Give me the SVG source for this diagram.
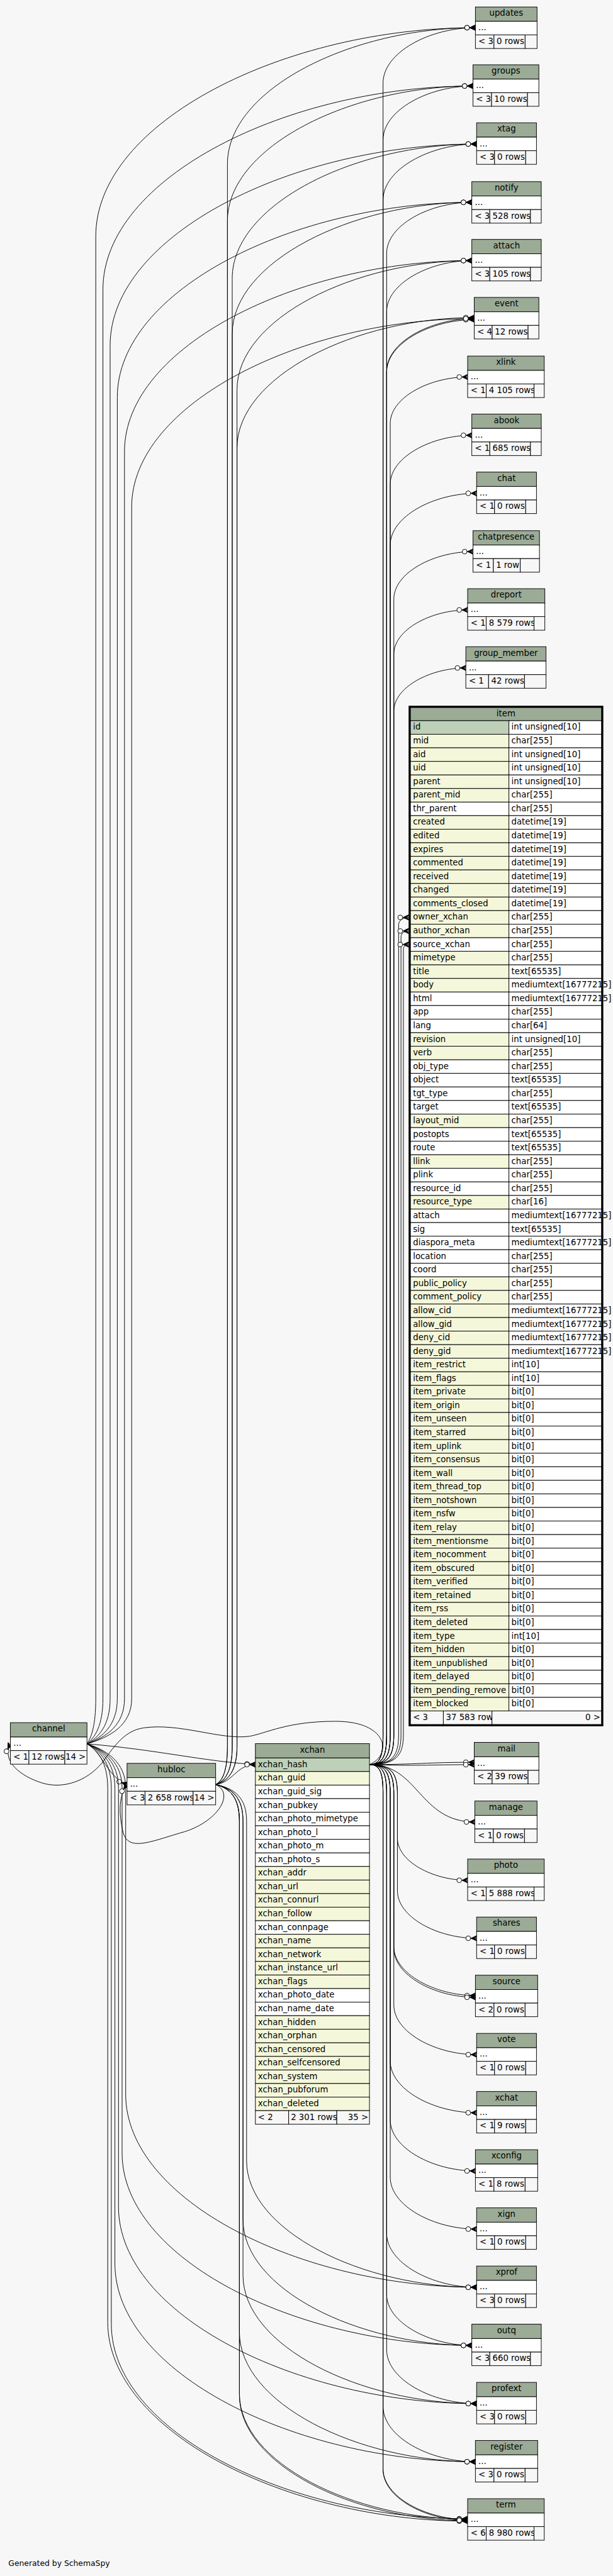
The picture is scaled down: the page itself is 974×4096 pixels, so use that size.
<svg xmlns="http://www.w3.org/2000/svg" width="974" height="4096" viewBox="0 0 974 4096">
<style>
text{font-family:"DejaVu Sans","Liberation Sans",sans-serif;font-size:14px;fill:#000}
.c{text-anchor:middle}
.r{text-anchor:end}
.hd{fill:#9bab96;stroke:#000;stroke-width:1}
.pk{fill:#bed1b8;stroke:#000;stroke-width:1}
.ix{fill:#f4f7da;stroke:#000;stroke-width:1}
.w{fill:#fff;stroke:#000;stroke-width:1}
.ft{fill:#f7f7f7;stroke:#000;stroke-width:1}
.e{fill:none;stroke:#000;stroke-width:1;marker-end:url(#cr)}
</style>
<defs>
<marker id="cr" markerUnits="userSpaceOnUse" orient="auto" refX="0" refY="0" markerWidth="40" markerHeight="20" viewBox="-20 -10 40 20" overflow="visible">
<path d="M-9.5,0 L0,-4.5 L0,-2.5 L-5,0 L0,2.5 L0,4.5 Z M-9.5,0 H0" fill="#000" stroke="#000" stroke-width="0.8"/>
<circle cx="-14" cy="0" r="4" fill="#fff" stroke="#000" stroke-width="1"/>
</marker>
</defs>
<rect x="0" y="0" width="974" height="4096" fill="#f7f7f7"/>
<g transform="scale(0.951)">
<g id="connectors">
<path class="e" d="M145.3,2915.7 C152.6,2905 160,2885 160,2840 L160,395.2 C160,203.3 477.2,46.3 794.3,46.3"/>
<path class="e" d="M145.3,2915.7 C158.7,2905 172,2885 172,2840 L172,483.9 C172,296.8 481.2,143.8 790.3,143.8"/>
<path class="e" d="M145.3,2915.7 C164.7,2905 184,2885 184,2840 L184,577.6 C184,392.4 490.2,240.8 796.3,240.8"/>
<path class="e" d="M145.3,2915.7 C170.7,2905 196,2885 196,2840 L196,664.1 C196,484.9 492.2,338.3 788.3,338.3"/>
<path class="e" d="M145.3,2915.7 C176.7,2905 208,2885 208,2840 L208,754.9 C208,579.3 498.2,435.7 788.3,435.7"/>
<path class="e" d="M145.3,2915.7 C182.7,2905 220,2885 220,2840 L220,847.6 C220,674.5 506.2,532.8 792.3,532.8"/>
<path class="e" d="M145.3,2915.7 C260,2925 340,2945 426.7,2950.3"/>
<path class="e" d="M145.3,2915.7 C170,2928 180,2972 212.3,2983.7"/>
<path class="e" d="M145.3,2915.7 C177.7,2926 210,2946 210,2990 L210,3501.8 C210,3679.2 503.2,3824.3 796.3,3824.3"/>
<path class="e" d="M145.3,2915.7 C174.7,2926 204,2946 204,2990 L204,3600.1 C204,3776.9 496.2,3921.5 788.3,3921.5"/>
<path class="e" d="M145.3,2915.7 C171.7,2926 198,2946 198,2990 L198,3689.7 C198,3870.7 497.2,4018.8 796.3,4018.8"/>
<path class="e" d="M145.3,2915.7 C168.7,2926 192,2946 192,2990 L192,3784.7 C192,3966.9 493.2,4116 794.3,4116"/>
<path class="e" d="M145.3,2915.7 C165.7,2926 186,2946 186,2990 L186,3885.9 C186,4066 483.7,4211.3 781.3,4211.3"/>
<path class="e" d="M145.3,2915.7 C162.7,2926 180,2946 180,2990 L180,3882.6 C180,4064.5 480.7,4215.3 781.3,4215.3"/>
<path class="e" d="M360.3,2983.7 C372.1,2978 380,2960 380,2920 L380,274.2 C380,148.9 587.2,46.3 794.3,46.3"/>
<path class="e" d="M360.3,2983.7 C372.1,2978 380,2960 380,2920 L380,369.5 C380,245.4 585.2,143.8 790.3,143.8"/>
<path class="e" d="M360.3,2983.7 C376.9,2978 388,2960 388,2920 L388,465.4 C388,341.9 592.2,240.8 796.3,240.8"/>
<path class="e" d="M360.3,2983.7 C376.9,2978 388,2960 388,2920 L388,558.5 C388,437.4 588.2,338.3 788.3,338.3"/>
<path class="e" d="M360.3,2983.7 C381.7,2978 396,2960 396,2920 L396,651.5 C396,532.8 592.2,435.7 788.3,435.7"/>
<path class="e" d="M360.3,2983.7 C381.7,2978 396,2960 396,2920 L396,749 C396,629.1 594.2,531 792.3,531"/>
<path class="e" d="M360.3,2983.7 C390,2980 395,2950.3 426.7,2950.3"/>
<path class="e" d="M360.3,2983.7 C395,3000 360,3050 300,3065 C250,3080 215,3095 206,3065 C200,3040 196,3005 212.3,2983.7"/>
<path class="e" d="M360.3,2983.7 C391.3,2990 412,3005 412,3045 L412,3612.9 C412,3729.2 604.2,3824.3 796.3,3824.3"/>
<path class="e" d="M360.3,2983.7 C387.7,2990 406,3005 406,3045 L406,3711.2 C406,3826.9 597.2,3921.5 788.3,3921.5"/>
<path class="e" d="M360.3,2983.7 C387.7,2990 406,3005 406,3045 L406,3804.1 C406,3922.2 601.2,4018.8 796.3,4018.8"/>
<path class="e" d="M360.3,2983.7 C384.1,2990 400,3005 400,3045 L400,3899.1 C400,4018.4 597.2,4116 794.3,4116"/>
<path class="e" d="M360.3,2983.7 C384.1,2990 400,3005 400,3045 L400,4002.3 C400,4117.6 590.7,4212 781.3,4212"/>
<path class="e" d="M360.3,2983.7 C384.1,2990 400,3005 400,3045 L400,4004.8 C400,4120.1 590.7,4214.5 781.3,4214.5"/>
<path class="e" d="M617.3,2950.3 C655,2935 650,2878 560,2878 C480,2878 445,2898 417,2903 C370,2910 300,2880 240,2889 C205,2894 188,2925 170,2948 C145,2978 105,2992 70,2981 C35,2970 2,2945 17.3,2915.7"/>
<path class="e" d="M617.3,2950.3 C635.5,2950.3 640,2935 640,2900 L640,138.9 C640,88 717.2,46.3 794.3,46.3"/>
<path class="e" d="M617.3,2950.3 C635.5,2950.3 640,2935 640,2900 L640,234 C640,184.4 715.2,143.8 790.3,143.8"/>
<path class="e" d="M617.3,2950.3 C635.5,2950.3 640,2935 640,2900 L640,334.6 C640,283 718.2,240.8 796.3,240.8"/>
<path class="e" d="M617.3,2950.3 C640.2,2950.3 646,2935 646,2900 L646,423.7 C646,376.7 717.2,338.3 788.3,338.3"/>
<path class="e" d="M617.3,2950.3 C640.2,2950.3 646,2935 646,2900 L646,521.1 C646,474.1 717.2,435.7 788.3,435.7"/>
<path class="e" d="M617.3,2950.3 C640.2,2950.3 646,2935 646,2900 L646,622.3 C646,574 719.2,534.5 792.3,534.5"/>
<path class="e" d="M617.3,2950.3 C640.2,2950.3 646,2935 646,2900 L646,620.6 C646,572.3 719.2,532.8 792.3,532.8"/>
<path class="e" d="M617.3,2950.3 C645,2950.3 652,2935 652,2900 L652,707.9 C652,665.2 716.7,630.3 781.3,630.3"/>
<path class="e" d="M617.3,2950.3 C645,2950.3 652,2935 652,2900 L652,809.6 C652,764.6 720.2,727.8 788.3,727.8"/>
<path class="e" d="M617.3,2950.3 C645,2950.3 652,2935 652,2900 L652,911.4 C652,863.8 724.2,824.8 796.3,824.8"/>
<path class="e" d="M617.3,2950.3 C649.8,2950.3 658,2935 658,2900 L658,1001.7 C658,958 724.2,922.3 790.3,922.3"/>
<path class="e" d="M617.3,2950.3 C649.8,2950.3 658,2935 658,2900 L658,1093.8 C658,1053.1 719.7,1019.8 781.3,1019.8"/>
<path class="e" d="M617.3,2950.3 C649.8,2950.3 658,2935 658,2900 L658,1189 C658,1149.3 718.3,1116.8 778.3,1116.8"/>
<path class="e" d="M617.3,2950.3 C656,2950.3 666,2935 666,2900 L666,1545.9 C666,1539 674,1533.9 682.7,1533.9"/>
<path class="e" d="M617.3,2950.3 C659.2,2950.3 670,2935 670,2900 L670,1566.6 C670,1560 676,1556.6 682.7,1556.6"/>
<path class="e" d="M617.3,2950.3 C662.4,2950.3 674,2935 674,2900 L674,1587.2 C674,1582 678,1579.2 682.7,1579.2"/>
<path class="e" d="M617.3,2950.3 C700,2950.3 710,2946.5 792.3,2946.5"/>
<path class="e" d="M617.3,2950.3 C700,2953 710,2950.5 792.3,2950.5"/>
<path class="e" d="M617.3,2950.3 C700,2950.3 700,3046.3 793.3,3046.3"/>
<path class="e" d="M617.3,2950.3 C654.6,2950.3 664,2965 664,3000 L664,3073.4 C664,3112.1 722.7,3143.8 781.3,3143.8"/>
<path class="e" d="M617.3,2950.3 C654.6,2950.3 664,2965 664,3000 L664,3161.4 C664,3205.1 730.2,3240.8 796.3,3240.8"/>
<path class="e" d="M617.3,2950.3 C649.8,2950.3 658,2965 658,3000 L658,3254.7 C658,3299.7 726.2,3336.5 794.3,3336.5"/>
<path class="e" d="M617.3,2950.3 C649.8,2950.3 658,2965 658,3000 L658,3257.7 C658,3302.7 726.2,3339.5 794.3,3339.5"/>
<path class="e" d="M617.3,2950.3 C649.8,2950.3 658,2965 658,3000 L658,3352.3 C658,3397.9 727.2,3435.3 796.3,3435.3"/>
<path class="e" d="M617.3,2950.3 C645,2950.3 652,2965 652,3000 L652,3445.9 C652,3493.5 724.2,3532.5 796.3,3532.5"/>
<path class="e" d="M617.3,2950.3 C645,2950.3 652,2965 652,3000 L652,3544.4 C652,3591.4 723.2,3629.8 794.3,3629.8"/>
<path class="e" d="M617.3,2950.3 C645,2950.3 652,2965 652,3000 L652,3640.4 C652,3688 724.2,3727 796.3,3727"/>
<path class="e" d="M617.3,2950.3 C640.2,2950.3 646,2965 646,3000 L646,3734.1 C646,3783.7 721.2,3824.3 796.3,3824.3"/>
<path class="e" d="M617.3,2950.3 C640.2,2950.3 646,2965 646,3000 L646,3836.1 C646,3883.1 717.2,3921.5 788.3,3921.5"/>
<path class="e" d="M617.3,2950.3 C640.2,2950.3 646,2965 646,3000 L646,3928.6 C646,3978.2 721.2,4018.8 796.3,4018.8"/>
<path class="e" d="M617.3,2950.3 C635.5,2950.3 640,2965 640,3000 L640,4023.4 C640,4074.3 717.2,4116 794.3,4116"/>
<path class="e" d="M617.3,2950.3 C635.5,2950.3 640,2965 640,3000 L640,4127.7 C640,4174.3 710.7,4212.5 781.3,4212.5"/>
<path class="e" d="M617.3,2950.3 C635.5,2950.3 640,2965 640,3000 L640,4129.2 C640,4175.8 710.7,4214 781.3,4214"/>
</g>

<g id="updates"><rect class="hd" x="794.3" y="11.7" width="103" height="24"/><text class="c" x="845.8" y="26.7">updates</text><rect class="w" x="794.3" y="35.7" width="103" height="22.7"/><text x="799.3" y="50.9">...</text><rect class="ft" x="794.3" y="58.4" width="31" height="22.7"/><text x="799.3" y="73.6">&lt; 3</text><rect class="ft" x="825.3" y="58.4" width="52" height="22.7"/><text x="829.8" y="73.6">0 rows</text><rect class="ft" x="877.3" y="58.4" width="20" height="22.7"/></g>
<g id="groups"><rect class="hd" x="790.3" y="108.3" width="110" height="24"/><text class="c" x="845.3" y="123.3">groups</text><rect class="w" x="790.3" y="132.3" width="110" height="22.7"/><text x="795.3" y="147.5">...</text><rect class="ft" x="790.3" y="155" width="31" height="22.7"/><text x="795.3" y="170.2">&lt; 3</text><rect class="ft" x="821.3" y="155" width="60" height="22.7"/><text x="825.8" y="170.2">10 rows</text><rect class="ft" x="881.3" y="155" width="19" height="22.7"/></g>
<g id="xtag"><rect class="hd" x="796.3" y="205.3" width="100" height="24"/><text class="c" x="846.3" y="220.3">xtag</text><rect class="w" x="796.3" y="229.3" width="100" height="22.7"/><text x="801.3" y="244.5">...</text><rect class="ft" x="796.3" y="252" width="30" height="22.7"/><text x="801.3" y="267.2">&lt; 3</text><rect class="ft" x="826.3" y="252" width="52" height="22.7"/><text x="830.8" y="267.2">0 rows</text><rect class="ft" x="878.3" y="252" width="18" height="22.7"/></g>
<g id="notify"><rect class="hd" x="788.3" y="303.7" width="116" height="24"/><text class="c" x="846.3" y="318.7">notify</text><rect class="w" x="788.3" y="327.7" width="116" height="22.7"/><text x="793.3" y="342.9">...</text><rect class="ft" x="788.3" y="350.4" width="30" height="22.7"/><text x="793.3" y="365.6">&lt; 3</text><rect class="ft" x="818.3" y="350.4" width="68" height="22.7"/><text x="822.8" y="365.6">528 rows</text><rect class="ft" x="886.3" y="350.4" width="18" height="22.7"/></g>
<g id="attach"><rect class="hd" x="788.3" y="400.3" width="116" height="24"/><text class="c" x="846.3" y="415.3">attach</text><rect class="w" x="788.3" y="424.3" width="116" height="22.7"/><text x="793.3" y="439.5">...</text><rect class="ft" x="788.3" y="447" width="30" height="22.7"/><text x="793.3" y="462.2">&lt; 3</text><rect class="ft" x="818.3" y="447" width="68" height="22.7"/><text x="822.8" y="462.2">105 rows</text><rect class="ft" x="886.3" y="447" width="18" height="22.7"/></g>
<g id="event"><rect class="hd" x="792.3" y="497.3" width="108" height="24"/><text class="c" x="846.3" y="512.3">event</text><rect class="w" x="792.3" y="521.3" width="108" height="22.7"/><text x="797.3" y="536.5">...</text><rect class="ft" x="792.3" y="544" width="30" height="22.7"/><text x="797.3" y="559.2">&lt; 4</text><rect class="ft" x="822.3" y="544" width="60" height="22.7"/><text x="826.8" y="559.2">12 rows</text><rect class="ft" x="882.3" y="544" width="18" height="22.7"/></g>
<g id="xlink"><rect class="hd" x="781.3" y="595.3" width="128" height="24"/><text class="c" x="845.3" y="610.3">xlink</text><rect class="w" x="781.3" y="619.3" width="128" height="22.7"/><text x="786.3" y="634.5">...</text><rect class="ft" x="781.3" y="642" width="31" height="22.7"/><text x="786.3" y="657.2">&lt; 1</text><rect class="ft" x="812.3" y="642" width="80" height="22.7"/><text x="816.8" y="657.2">4 105 rows</text><rect class="ft" x="892.3" y="642" width="17" height="22.7"/></g>
<g id="abook"><rect class="hd" x="788.3" y="692.3" width="116" height="24"/><text class="c" x="846.3" y="707.3">abook</text><rect class="w" x="788.3" y="716.3" width="116" height="22.7"/><text x="793.3" y="731.5">...</text><rect class="ft" x="788.3" y="739" width="30" height="22.7"/><text x="793.3" y="754.2">&lt; 1</text><rect class="ft" x="818.3" y="739" width="68" height="22.7"/><text x="822.8" y="754.2">685 rows</text><rect class="ft" x="886.3" y="739" width="18" height="22.7"/></g>
<g id="chat"><rect class="hd" x="796.3" y="789.3" width="100" height="24"/><text class="c" x="846.3" y="804.3">chat</text><rect class="w" x="796.3" y="813.3" width="100" height="22.7"/><text x="801.3" y="828.5">...</text><rect class="ft" x="796.3" y="836" width="30" height="22.7"/><text x="801.3" y="851.2">&lt; 1</text><rect class="ft" x="826.3" y="836" width="52" height="22.7"/><text x="830.8" y="851.2">0 rows</text><rect class="ft" x="878.3" y="836" width="18" height="22.7"/></g>
<g id="chatpresence"><rect class="hd" x="790.3" y="887.3" width="111" height="24"/><text class="c" x="845.8" y="902.3">chatpresence</text><rect class="w" x="790.3" y="911.3" width="111" height="22.7"/><text x="795.3" y="926.5">...</text><rect class="ft" x="790.3" y="934" width="34" height="22.7"/><text x="795.3" y="949.2">&lt; 1</text><rect class="ft" x="824.3" y="934" width="45" height="22.7"/><text x="828.8" y="949.2">1 row</text><rect class="ft" x="869.3" y="934" width="32" height="22.7"/></g>
<g id="dreport"><rect class="hd" x="781.3" y="984.3" width="129" height="24"/><text class="c" x="845.8" y="999.3">dreport</text><rect class="w" x="781.3" y="1008.3" width="129" height="22.7"/><text x="786.3" y="1023.5">...</text><rect class="ft" x="781.3" y="1031" width="31" height="22.7"/><text x="786.3" y="1046.2">&lt; 1</text><rect class="ft" x="812.3" y="1031" width="80" height="22.7"/><text x="816.8" y="1046.2">8 579 rows</text><rect class="ft" x="892.3" y="1031" width="18" height="22.7"/></g>
<g id="group_member"><rect class="hd" x="778.3" y="1081.3" width="134" height="24"/><text class="c" x="845.3" y="1096.3">group_member</text><rect class="w" x="778.3" y="1105.3" width="134" height="22.7"/><text x="783.3" y="1120.5">...</text><rect class="ft" x="778.3" y="1128" width="38" height="22.7"/><text x="783.3" y="1143.2">&lt; 1</text><rect class="ft" x="816.3" y="1128" width="60" height="22.7"/><text x="820.8" y="1143.2">42 rows</text><rect class="ft" x="876.3" y="1128" width="36" height="22.7"/></g>

<g id="item">
<rect class="hd" x="685.7" y="1183" width="319.3" height="22"/><text class="c" x="845.3" y="1198">item</text>
<rect class="pk" x="685.7" y="1205" width="164.6" height="22.68"/><rect class="w" x="850.3" y="1205" width="154.7" height="22.68"/><text x="690" y="1220.3">id</text><text x="854.4" y="1220.3">int unsigned[10]</text>
<rect class="ix" x="685.7" y="1227.68" width="164.6" height="22.68"/><rect class="w" x="850.3" y="1227.68" width="154.7" height="22.68"/><text x="690" y="1242.98">mid</text><text x="854.4" y="1242.98">char[255]</text>
<rect class="ix" x="685.7" y="1250.36" width="164.6" height="22.68"/><rect class="w" x="850.3" y="1250.36" width="154.7" height="22.68"/><text x="690" y="1265.66">aid</text><text x="854.4" y="1265.66">int unsigned[10]</text>
<rect class="ix" x="685.7" y="1273.04" width="164.6" height="22.68"/><rect class="w" x="850.3" y="1273.04" width="154.7" height="22.68"/><text x="690" y="1288.34">uid</text><text x="854.4" y="1288.34">int unsigned[10]</text>
<rect class="ix" x="685.7" y="1295.72" width="164.6" height="22.68"/><rect class="w" x="850.3" y="1295.72" width="154.7" height="22.68"/><text x="690" y="1311.02">parent</text><text x="854.4" y="1311.02">int unsigned[10]</text>
<rect class="ix" x="685.7" y="1318.4" width="164.6" height="22.68"/><rect class="w" x="850.3" y="1318.4" width="154.7" height="22.68"/><text x="690" y="1333.7">parent_mid</text><text x="854.4" y="1333.7">char[255]</text>
<rect class="w" x="685.7" y="1341.08" width="164.6" height="22.68"/><rect class="w" x="850.3" y="1341.08" width="154.7" height="22.68"/><text x="690" y="1356.38">thr_parent</text><text x="854.4" y="1356.38">char[255]</text>
<rect class="ix" x="685.7" y="1363.76" width="164.6" height="22.68"/><rect class="w" x="850.3" y="1363.76" width="154.7" height="22.68"/><text x="690" y="1379.06">created</text><text x="854.4" y="1379.06">datetime[19]</text>
<rect class="ix" x="685.7" y="1386.44" width="164.6" height="22.68"/><rect class="w" x="850.3" y="1386.44" width="154.7" height="22.68"/><text x="690" y="1401.74">edited</text><text x="854.4" y="1401.74">datetime[19]</text>
<rect class="ix" x="685.7" y="1409.12" width="164.6" height="22.68"/><rect class="w" x="850.3" y="1409.12" width="154.7" height="22.68"/><text x="690" y="1424.42">expires</text><text x="854.4" y="1424.42">datetime[19]</text>
<rect class="ix" x="685.7" y="1431.8" width="164.6" height="22.68"/><rect class="w" x="850.3" y="1431.8" width="154.7" height="22.68"/><text x="690" y="1447.1">commented</text><text x="854.4" y="1447.1">datetime[19]</text>
<rect class="ix" x="685.7" y="1454.48" width="164.6" height="22.68"/><rect class="w" x="850.3" y="1454.48" width="154.7" height="22.68"/><text x="690" y="1469.78">received</text><text x="854.4" y="1469.78">datetime[19]</text>
<rect class="ix" x="685.7" y="1477.16" width="164.6" height="22.68"/><rect class="w" x="850.3" y="1477.16" width="154.7" height="22.68"/><text x="690" y="1492.46">changed</text><text x="854.4" y="1492.46">datetime[19]</text>
<rect class="ix" x="685.7" y="1499.84" width="164.6" height="22.68"/><rect class="w" x="850.3" y="1499.84" width="154.7" height="22.68"/><text x="690" y="1515.14">comments_closed</text><text x="854.4" y="1515.14">datetime[19]</text>
<rect class="ix" x="685.7" y="1522.52" width="164.6" height="22.68"/><rect class="w" x="850.3" y="1522.52" width="154.7" height="22.68"/><text x="690" y="1537.82">owner_xchan</text><text x="854.4" y="1537.82">char[255]</text>
<rect class="ix" x="685.7" y="1545.2" width="164.6" height="22.68"/><rect class="w" x="850.3" y="1545.2" width="154.7" height="22.68"/><text x="690" y="1560.5">author_xchan</text><text x="854.4" y="1560.5">char[255]</text>
<rect class="w" x="685.7" y="1567.88" width="164.6" height="22.68"/><rect class="w" x="850.3" y="1567.88" width="154.7" height="22.68"/><text x="690" y="1583.18">source_xchan</text><text x="854.4" y="1583.18">char[255]</text>
<rect class="ix" x="685.7" y="1590.56" width="164.6" height="22.68"/><rect class="w" x="850.3" y="1590.56" width="154.7" height="22.68"/><text x="690" y="1605.86">mimetype</text><text x="854.4" y="1605.86">char[255]</text>
<rect class="ix" x="685.7" y="1613.24" width="164.6" height="22.68"/><rect class="w" x="850.3" y="1613.24" width="154.7" height="22.68"/><text x="690" y="1628.54">title</text><text x="854.4" y="1628.54">text[65535]</text>
<rect class="ix" x="685.7" y="1635.92" width="164.6" height="22.68"/><rect class="w" x="850.3" y="1635.92" width="154.7" height="22.68"/><text x="690" y="1651.22">body</text><text x="854.4" y="1651.22">mediumtext[16777215]</text>
<rect class="w" x="685.7" y="1658.6" width="164.6" height="22.68"/><rect class="w" x="850.3" y="1658.6" width="154.7" height="22.68"/><text x="690" y="1673.9">html</text><text x="854.4" y="1673.9">mediumtext[16777215]</text>
<rect class="w" x="685.7" y="1681.28" width="164.6" height="22.68"/><rect class="w" x="850.3" y="1681.28" width="154.7" height="22.68"/><text x="690" y="1696.58">app</text><text x="854.4" y="1696.58">char[255]</text>
<rect class="w" x="685.7" y="1703.96" width="164.6" height="22.68"/><rect class="w" x="850.3" y="1703.96" width="154.7" height="22.68"/><text x="690" y="1719.26">lang</text><text x="854.4" y="1719.26">char[64]</text>
<rect class="ix" x="685.7" y="1726.64" width="164.6" height="22.68"/><rect class="w" x="850.3" y="1726.64" width="154.7" height="22.68"/><text x="690" y="1741.94">revision</text><text x="854.4" y="1741.94">int unsigned[10]</text>
<rect class="ix" x="685.7" y="1749.32" width="164.6" height="22.68"/><rect class="w" x="850.3" y="1749.32" width="154.7" height="22.68"/><text x="690" y="1764.62">verb</text><text x="854.4" y="1764.62">char[255]</text>
<rect class="w" x="685.7" y="1772" width="164.6" height="22.68"/><rect class="w" x="850.3" y="1772" width="154.7" height="22.68"/><text x="690" y="1787.3">obj_type</text><text x="854.4" y="1787.3">char[255]</text>
<rect class="w" x="685.7" y="1794.68" width="164.6" height="22.68"/><rect class="w" x="850.3" y="1794.68" width="154.7" height="22.68"/><text x="690" y="1809.98">object</text><text x="854.4" y="1809.98">text[65535]</text>
<rect class="w" x="685.7" y="1817.36" width="164.6" height="22.68"/><rect class="w" x="850.3" y="1817.36" width="154.7" height="22.68"/><text x="690" y="1832.66">tgt_type</text><text x="854.4" y="1832.66">char[255]</text>
<rect class="w" x="685.7" y="1840.04" width="164.6" height="22.68"/><rect class="w" x="850.3" y="1840.04" width="154.7" height="22.68"/><text x="690" y="1855.34">target</text><text x="854.4" y="1855.34">text[65535]</text>
<rect class="ix" x="685.7" y="1862.72" width="164.6" height="22.68"/><rect class="w" x="850.3" y="1862.72" width="154.7" height="22.68"/><text x="690" y="1878.02">layout_mid</text><text x="854.4" y="1878.02">char[255]</text>
<rect class="w" x="685.7" y="1885.4" width="164.6" height="22.68"/><rect class="w" x="850.3" y="1885.4" width="154.7" height="22.68"/><text x="690" y="1900.7">postopts</text><text x="854.4" y="1900.7">text[65535]</text>
<rect class="w" x="685.7" y="1908.08" width="164.6" height="22.68"/><rect class="w" x="850.3" y="1908.08" width="154.7" height="22.68"/><text x="690" y="1923.38">route</text><text x="854.4" y="1923.38">text[65535]</text>
<rect class="ix" x="685.7" y="1930.76" width="164.6" height="22.68"/><rect class="w" x="850.3" y="1930.76" width="154.7" height="22.68"/><text x="690" y="1946.06">llink</text><text x="854.4" y="1946.06">char[255]</text>
<rect class="w" x="685.7" y="1953.44" width="164.6" height="22.68"/><rect class="w" x="850.3" y="1953.44" width="154.7" height="22.68"/><text x="690" y="1968.74">plink</text><text x="854.4" y="1968.74">char[255]</text>
<rect class="w" x="685.7" y="1976.12" width="164.6" height="22.68"/><rect class="w" x="850.3" y="1976.12" width="154.7" height="22.68"/><text x="690" y="1991.42">resource_id</text><text x="854.4" y="1991.42">char[255]</text>
<rect class="ix" x="685.7" y="1998.8" width="164.6" height="22.68"/><rect class="w" x="850.3" y="1998.8" width="154.7" height="22.68"/><text x="690" y="2014.1">resource_type</text><text x="854.4" y="2014.1">char[16]</text>
<rect class="w" x="685.7" y="2021.48" width="164.6" height="22.68"/><rect class="w" x="850.3" y="2021.48" width="154.7" height="22.68"/><text x="690" y="2036.78">attach</text><text x="854.4" y="2036.78">mediumtext[16777215]</text>
<rect class="w" x="685.7" y="2044.16" width="164.6" height="22.68"/><rect class="w" x="850.3" y="2044.16" width="154.7" height="22.68"/><text x="690" y="2059.46">sig</text><text x="854.4" y="2059.46">text[65535]</text>
<rect class="w" x="685.7" y="2066.84" width="164.6" height="22.68"/><rect class="w" x="850.3" y="2066.84" width="154.7" height="22.68"/><text x="690" y="2082.14">diaspora_meta</text><text x="854.4" y="2082.14">mediumtext[16777215]</text>
<rect class="w" x="685.7" y="2089.52" width="164.6" height="22.68"/><rect class="w" x="850.3" y="2089.52" width="154.7" height="22.68"/><text x="690" y="2104.82">location</text><text x="854.4" y="2104.82">char[255]</text>
<rect class="w" x="685.7" y="2112.2" width="164.6" height="22.68"/><rect class="w" x="850.3" y="2112.2" width="154.7" height="22.68"/><text x="690" y="2127.5">coord</text><text x="854.4" y="2127.5">char[255]</text>
<rect class="ix" x="685.7" y="2134.88" width="164.6" height="22.68"/><rect class="w" x="850.3" y="2134.88" width="154.7" height="22.68"/><text x="690" y="2150.18">public_policy</text><text x="854.4" y="2150.18">char[255]</text>
<rect class="ix" x="685.7" y="2157.56" width="164.6" height="22.68"/><rect class="w" x="850.3" y="2157.56" width="154.7" height="22.68"/><text x="690" y="2172.86">comment_policy</text><text x="854.4" y="2172.86">char[255]</text>
<rect class="ix" x="685.7" y="2180.24" width="164.6" height="22.68"/><rect class="w" x="850.3" y="2180.24" width="154.7" height="22.68"/><text x="690" y="2195.54">allow_cid</text><text x="854.4" y="2195.54">mediumtext[16777215]</text>
<rect class="ix" x="685.7" y="2202.92" width="164.6" height="22.68"/><rect class="w" x="850.3" y="2202.92" width="154.7" height="22.68"/><text x="690" y="2218.22">allow_gid</text><text x="854.4" y="2218.22">mediumtext[16777215]</text>
<rect class="ix" x="685.7" y="2225.6" width="164.6" height="22.68"/><rect class="w" x="850.3" y="2225.6" width="154.7" height="22.68"/><text x="690" y="2240.9">deny_cid</text><text x="854.4" y="2240.9">mediumtext[16777215]</text>
<rect class="ix" x="685.7" y="2248.28" width="164.6" height="22.68"/><rect class="w" x="850.3" y="2248.28" width="154.7" height="22.68"/><text x="690" y="2263.58">deny_gid</text><text x="854.4" y="2263.58">mediumtext[16777215]</text>
<rect class="ix" x="685.7" y="2270.96" width="164.6" height="22.68"/><rect class="w" x="850.3" y="2270.96" width="154.7" height="22.68"/><text x="690" y="2286.26">item_restrict</text><text x="854.4" y="2286.26">int[10]</text>
<rect class="ix" x="685.7" y="2293.64" width="164.6" height="22.68"/><rect class="w" x="850.3" y="2293.64" width="154.7" height="22.68"/><text x="690" y="2308.94">item_flags</text><text x="854.4" y="2308.94">int[10]</text>
<rect class="ix" x="685.7" y="2316.32" width="164.6" height="22.68"/><rect class="w" x="850.3" y="2316.32" width="154.7" height="22.68"/><text x="690" y="2331.62">item_private</text><text x="854.4" y="2331.62">bit[0]</text>
<rect class="ix" x="685.7" y="2339" width="164.6" height="22.68"/><rect class="w" x="850.3" y="2339" width="154.7" height="22.68"/><text x="690" y="2354.3">item_origin</text><text x="854.4" y="2354.3">bit[0]</text>
<rect class="ix" x="685.7" y="2361.68" width="164.6" height="22.68"/><rect class="w" x="850.3" y="2361.68" width="154.7" height="22.68"/><text x="690" y="2376.98">item_unseen</text><text x="854.4" y="2376.98">bit[0]</text>
<rect class="ix" x="685.7" y="2384.36" width="164.6" height="22.68"/><rect class="w" x="850.3" y="2384.36" width="154.7" height="22.68"/><text x="690" y="2399.66">item_starred</text><text x="854.4" y="2399.66">bit[0]</text>
<rect class="ix" x="685.7" y="2407.04" width="164.6" height="22.68"/><rect class="w" x="850.3" y="2407.04" width="154.7" height="22.68"/><text x="690" y="2422.34">item_uplink</text><text x="854.4" y="2422.34">bit[0]</text>
<rect class="ix" x="685.7" y="2429.72" width="164.6" height="22.68"/><rect class="w" x="850.3" y="2429.72" width="154.7" height="22.68"/><text x="690" y="2445.02">item_consensus</text><text x="854.4" y="2445.02">bit[0]</text>
<rect class="ix" x="685.7" y="2452.4" width="164.6" height="22.68"/><rect class="w" x="850.3" y="2452.4" width="154.7" height="22.68"/><text x="690" y="2467.7">item_wall</text><text x="854.4" y="2467.7">bit[0]</text>
<rect class="ix" x="685.7" y="2475.08" width="164.6" height="22.68"/><rect class="w" x="850.3" y="2475.08" width="154.7" height="22.68"/><text x="690" y="2490.38">item_thread_top</text><text x="854.4" y="2490.38">bit[0]</text>
<rect class="ix" x="685.7" y="2497.76" width="164.6" height="22.68"/><rect class="w" x="850.3" y="2497.76" width="154.7" height="22.68"/><text x="690" y="2513.06">item_notshown</text><text x="854.4" y="2513.06">bit[0]</text>
<rect class="ix" x="685.7" y="2520.44" width="164.6" height="22.68"/><rect class="w" x="850.3" y="2520.44" width="154.7" height="22.68"/><text x="690" y="2535.74">item_nsfw</text><text x="854.4" y="2535.74">bit[0]</text>
<rect class="ix" x="685.7" y="2543.12" width="164.6" height="22.68"/><rect class="w" x="850.3" y="2543.12" width="154.7" height="22.68"/><text x="690" y="2558.42">item_relay</text><text x="854.4" y="2558.42">bit[0]</text>
<rect class="ix" x="685.7" y="2565.8" width="164.6" height="22.68"/><rect class="w" x="850.3" y="2565.8" width="154.7" height="22.68"/><text x="690" y="2581.1">item_mentionsme</text><text x="854.4" y="2581.1">bit[0]</text>
<rect class="ix" x="685.7" y="2588.48" width="164.6" height="22.68"/><rect class="w" x="850.3" y="2588.48" width="154.7" height="22.68"/><text x="690" y="2603.78">item_nocomment</text><text x="854.4" y="2603.78">bit[0]</text>
<rect class="ix" x="685.7" y="2611.16" width="164.6" height="22.68"/><rect class="w" x="850.3" y="2611.16" width="154.7" height="22.68"/><text x="690" y="2626.46">item_obscured</text><text x="854.4" y="2626.46">bit[0]</text>
<rect class="ix" x="685.7" y="2633.84" width="164.6" height="22.68"/><rect class="w" x="850.3" y="2633.84" width="154.7" height="22.68"/><text x="690" y="2649.14">item_verified</text><text x="854.4" y="2649.14">bit[0]</text>
<rect class="ix" x="685.7" y="2656.52" width="164.6" height="22.68"/><rect class="w" x="850.3" y="2656.52" width="154.7" height="22.68"/><text x="690" y="2671.82">item_retained</text><text x="854.4" y="2671.82">bit[0]</text>
<rect class="ix" x="685.7" y="2679.2" width="164.6" height="22.68"/><rect class="w" x="850.3" y="2679.2" width="154.7" height="22.68"/><text x="690" y="2694.5">item_rss</text><text x="854.4" y="2694.5">bit[0]</text>
<rect class="ix" x="685.7" y="2701.88" width="164.6" height="22.68"/><rect class="w" x="850.3" y="2701.88" width="154.7" height="22.68"/><text x="690" y="2717.18">item_deleted</text><text x="854.4" y="2717.18">bit[0]</text>
<rect class="ix" x="685.7" y="2724.56" width="164.6" height="22.68"/><rect class="w" x="850.3" y="2724.56" width="154.7" height="22.68"/><text x="690" y="2739.86">item_type</text><text x="854.4" y="2739.86">int[10]</text>
<rect class="ix" x="685.7" y="2747.24" width="164.6" height="22.68"/><rect class="w" x="850.3" y="2747.24" width="154.7" height="22.68"/><text x="690" y="2762.54">item_hidden</text><text x="854.4" y="2762.54">bit[0]</text>
<rect class="ix" x="685.7" y="2769.92" width="164.6" height="22.68"/><rect class="w" x="850.3" y="2769.92" width="154.7" height="22.68"/><text x="690" y="2785.22">item_unpublished</text><text x="854.4" y="2785.22">bit[0]</text>
<rect class="ix" x="685.7" y="2792.6" width="164.6" height="22.68"/><rect class="w" x="850.3" y="2792.6" width="154.7" height="22.68"/><text x="690" y="2807.9">item_delayed</text><text x="854.4" y="2807.9">bit[0]</text>
<rect class="ix" x="685.7" y="2815.28" width="164.6" height="22.68"/><rect class="w" x="850.3" y="2815.28" width="154.7" height="22.68"/><text x="690" y="2830.58">item_pending_remove</text><text x="854.4" y="2830.58">bit[0]</text>
<rect class="ix" x="685.7" y="2837.96" width="164.6" height="22.68"/><rect class="w" x="850.3" y="2837.96" width="154.7" height="22.68"/><text x="690" y="2853.26">item_blocked</text><text x="854.4" y="2853.26">bit[0]</text>
<rect class="ft" x="685.7" y="2860.64" width="55" height="22.68"/><text x="690" y="2875.94">&lt; 3</text>
<rect class="ft" x="740.7" y="2860.64" width="81.3" height="22.68"/><text x="745" y="2875.94">37 583 rows</text>
<rect class="ft" x="822" y="2860.64" width="183" height="22.68"/><text class="r" x="1003" y="2875.94">0 &gt;</text>
<rect x="684.2" y="1181.5" width="322.3" height="1703.3" fill="none" stroke="#000" stroke-width="3"/>
</g>

<g id="channel"><rect class="hd" x="17.3" y="2880.3" width="128" height="24"/><text class="c" x="81.3" y="2895.3">channel</text><rect class="w" x="17.3" y="2904.3" width="128" height="22.7"/><text x="22.3" y="2919.5">...</text><rect class="ft" x="17.3" y="2927" width="31" height="22.7"/><text x="22.3" y="2942.2">&lt; 1</text><rect class="ft" x="48.3" y="2927" width="60" height="22.7"/><text x="52.8" y="2942.2">12 rows</text><rect class="ft" x="108.3" y="2927" width="37" height="22.7"/><text class="r" x="143.3" y="2942.2">14 &gt;</text></g>
<g id="hubloc"><rect class="hd" x="212.3" y="2948.3" width="148" height="24"/><text class="c" x="286.3" y="2963.3">hubloc</text><rect class="w" x="212.3" y="2972.3" width="148" height="22.7"/><text x="217.3" y="2987.5">...</text><rect class="ft" x="212.3" y="2995" width="30" height="22.7"/><text x="217.3" y="3010.2">&lt; 3</text><rect class="ft" x="242.3" y="2995" width="80.4" height="22.7"/><text x="246.8" y="3010.2">2 658 rows</text><rect class="ft" x="322.7" y="2995" width="37.6" height="22.7"/><text class="r" x="358.3" y="3010.2">14 &gt;</text></g>

<g id="xchan">
<rect class="hd" x="426.7" y="2915.3" width="190.6" height="24"/><text class="c" x="522" y="2930.3">xchan</text>
<rect class="pk" x="426.7" y="2939.3" width="190.6" height="22.68"/><text x="431" y="2954.6">xchan_hash</text>
<rect class="ix" x="426.7" y="2961.98" width="190.6" height="22.68"/><text x="431" y="2977.28">xchan_guid</text>
<rect class="w" x="426.7" y="2984.66" width="190.6" height="22.68"/><text x="431" y="2999.96">xchan_guid_sig</text>
<rect class="w" x="426.7" y="3007.34" width="190.6" height="22.68"/><text x="431" y="3022.64">xchan_pubkey</text>
<rect class="w" x="426.7" y="3030.02" width="190.6" height="22.68"/><text x="431" y="3045.32">xchan_photo_mimetype</text>
<rect class="w" x="426.7" y="3052.7" width="190.6" height="22.68"/><text x="431" y="3068">xchan_photo_l</text>
<rect class="w" x="426.7" y="3075.38" width="190.6" height="22.68"/><text x="431" y="3090.68">xchan_photo_m</text>
<rect class="w" x="426.7" y="3098.06" width="190.6" height="22.68"/><text x="431" y="3113.36">xchan_photo_s</text>
<rect class="ix" x="426.7" y="3120.74" width="190.6" height="22.68"/><text x="431" y="3136.04">xchan_addr</text>
<rect class="ix" x="426.7" y="3143.42" width="190.6" height="22.68"/><text x="431" y="3158.72">xchan_url</text>
<rect class="ix" x="426.7" y="3166.1" width="190.6" height="22.68"/><text x="431" y="3181.4">xchan_connurl</text>
<rect class="ix" x="426.7" y="3188.78" width="190.6" height="22.68"/><text x="431" y="3204.08">xchan_follow</text>
<rect class="w" x="426.7" y="3211.46" width="190.6" height="22.68"/><text x="431" y="3226.76">xchan_connpage</text>
<rect class="ix" x="426.7" y="3234.14" width="190.6" height="22.68"/><text x="431" y="3249.44">xchan_name</text>
<rect class="ix" x="426.7" y="3256.82" width="190.6" height="22.68"/><text x="431" y="3272.12">xchan_network</text>
<rect class="ix" x="426.7" y="3279.5" width="190.6" height="22.68"/><text x="431" y="3294.8">xchan_instance_url</text>
<rect class="ix" x="426.7" y="3302.18" width="190.6" height="22.68"/><text x="431" y="3317.48">xchan_flags</text>
<rect class="w" x="426.7" y="3324.86" width="190.6" height="22.68"/><text x="431" y="3340.16">xchan_photo_date</text>
<rect class="w" x="426.7" y="3347.54" width="190.6" height="22.68"/><text x="431" y="3362.84">xchan_name_date</text>
<rect class="ix" x="426.7" y="3370.22" width="190.6" height="22.68"/><text x="431" y="3385.52">xchan_hidden</text>
<rect class="ix" x="426.7" y="3392.9" width="190.6" height="22.68"/><text x="431" y="3408.2">xchan_orphan</text>
<rect class="ix" x="426.7" y="3415.58" width="190.6" height="22.68"/><text x="431" y="3430.88">xchan_censored</text>
<rect class="ix" x="426.7" y="3438.26" width="190.6" height="22.68"/><text x="431" y="3453.56">xchan_selfcensored</text>
<rect class="ix" x="426.7" y="3460.94" width="190.6" height="22.68"/><text x="431" y="3476.24">xchan_system</text>
<rect class="ix" x="426.7" y="3483.62" width="190.6" height="22.68"/><text x="431" y="3498.92">xchan_pubforum</text>
<rect class="ix" x="426.7" y="3506.3" width="190.6" height="22.68"/><text x="431" y="3521.6">xchan_deleted</text>
<rect class="ft" x="426.7" y="3528.98" width="55.6" height="22.7"/><text x="431" y="3544.2">&lt; 2</text>
<rect class="ft" x="482.3" y="3528.98" width="80.4" height="22.7"/><text x="486" y="3544.2">2 301 rows</text>
<rect class="ft" x="562.7" y="3528.98" width="54.6" height="22.7"/><text class="r" x="615.3" y="3544.2">35 &gt;</text>
</g>

<g id="mail"><rect class="hd" x="792.3" y="2913.3" width="108" height="24"/><text class="c" x="846.3" y="2928.3">mail</text><rect class="w" x="792.3" y="2937.3" width="108" height="22.7"/><text x="797.3" y="2952.5">...</text><rect class="ft" x="792.3" y="2960" width="30" height="22.7"/><text x="797.3" y="2975.2">&lt; 2</text><rect class="ft" x="822.3" y="2960" width="60" height="22.7"/><text x="826.8" y="2975.2">39 rows</text><rect class="ft" x="882.3" y="2960" width="18" height="22.7"/></g>
<g id="manage"><rect class="hd" x="793.3" y="3011.3" width="104" height="24"/><text class="c" x="845.3" y="3026.3">manage</text><rect class="w" x="793.3" y="3035.3" width="104" height="22.7"/><text x="798.3" y="3050.5">...</text><rect class="ft" x="793.3" y="3058" width="31" height="22.7"/><text x="798.3" y="3073.2">&lt; 1</text><rect class="ft" x="824.3" y="3058" width="52" height="22.7"/><text x="828.8" y="3073.2">0 rows</text><rect class="ft" x="876.3" y="3058" width="21" height="22.7"/></g>
<g id="photo"><rect class="hd" x="781.3" y="3108.3" width="128" height="24"/><text class="c" x="845.3" y="3123.3">photo</text><rect class="w" x="781.3" y="3132.3" width="128" height="22.7"/><text x="786.3" y="3147.5">...</text><rect class="ft" x="781.3" y="3155" width="31" height="22.7"/><text x="786.3" y="3170.2">&lt; 1</text><rect class="ft" x="812.3" y="3155" width="80" height="22.7"/><text x="816.8" y="3170.2">5 888 rows</text><rect class="ft" x="892.3" y="3155" width="17" height="22.7"/></g>
<g id="shares"><rect class="hd" x="796.3" y="3205.3" width="100" height="24"/><text class="c" x="846.3" y="3220.3">shares</text><rect class="w" x="796.3" y="3229.3" width="100" height="22.7"/><text x="801.3" y="3244.5">...</text><rect class="ft" x="796.3" y="3252" width="30" height="22.7"/><text x="801.3" y="3267.2">&lt; 1</text><rect class="ft" x="826.3" y="3252" width="52" height="22.7"/><text x="830.8" y="3267.2">0 rows</text><rect class="ft" x="878.3" y="3252" width="18" height="22.7"/></g>
<g id="source"><rect class="hd" x="794.3" y="3302.5" width="104" height="24"/><text class="c" x="846.3" y="3317.5">source</text><rect class="w" x="794.3" y="3326.5" width="104" height="22.7"/><text x="799.3" y="3341.7">...</text><rect class="ft" x="794.3" y="3349.2" width="31" height="22.7"/><text x="799.3" y="3364.4">&lt; 2</text><rect class="ft" x="825.3" y="3349.2" width="52" height="22.7"/><text x="829.8" y="3364.4">0 rows</text><rect class="ft" x="877.3" y="3349.2" width="21" height="22.7"/></g>
<g id="vote"><rect class="hd" x="796.3" y="3399.8" width="100" height="24"/><text class="c" x="846.3" y="3414.8">vote</text><rect class="w" x="796.3" y="3423.8" width="100" height="22.7"/><text x="801.3" y="3439">...</text><rect class="ft" x="796.3" y="3446.5" width="30" height="22.7"/><text x="801.3" y="3461.7">&lt; 1</text><rect class="ft" x="826.3" y="3446.5" width="52" height="22.7"/><text x="830.8" y="3461.7">0 rows</text><rect class="ft" x="878.3" y="3446.5" width="18" height="22.7"/></g>
<g id="xchat"><rect class="hd" x="796.3" y="3497" width="100" height="24"/><text class="c" x="846.3" y="3512">xchat</text><rect class="w" x="796.3" y="3521" width="100" height="22.7"/><text x="801.3" y="3536.2">...</text><rect class="ft" x="796.3" y="3543.7" width="30" height="22.7"/><text x="801.3" y="3558.9">&lt; 1</text><rect class="ft" x="826.3" y="3543.7" width="52" height="22.7"/><text x="830.8" y="3558.9">9 rows</text><rect class="ft" x="878.3" y="3543.7" width="18" height="22.7"/></g>
<g id="xconfig"><rect class="hd" x="794.3" y="3594.3" width="104" height="24"/><text class="c" x="846.3" y="3609.3">xconfig</text><rect class="w" x="794.3" y="3618.3" width="104" height="22.7"/><text x="799.3" y="3633.5">...</text><rect class="ft" x="794.3" y="3641" width="31" height="22.7"/><text x="799.3" y="3656.2">&lt; 1</text><rect class="ft" x="825.3" y="3641" width="52" height="22.7"/><text x="829.8" y="3656.2">8 rows</text><rect class="ft" x="877.3" y="3641" width="21" height="22.7"/></g>
<g id="xign"><rect class="hd" x="796.3" y="3691.5" width="100" height="24"/><text class="c" x="846.3" y="3706.5">xign</text><rect class="w" x="796.3" y="3715.5" width="100" height="22.7"/><text x="801.3" y="3730.7">...</text><rect class="ft" x="796.3" y="3738.2" width="30" height="22.7"/><text x="801.3" y="3753.4">&lt; 1</text><rect class="ft" x="826.3" y="3738.2" width="52" height="22.7"/><text x="830.8" y="3753.4">0 rows</text><rect class="ft" x="878.3" y="3738.2" width="18" height="22.7"/></g>
<g id="xprof"><rect class="hd" x="796.3" y="3788.8" width="100" height="24"/><text class="c" x="846.3" y="3803.8">xprof</text><rect class="w" x="796.3" y="3812.8" width="100" height="22.7"/><text x="801.3" y="3828">...</text><rect class="ft" x="796.3" y="3835.5" width="30" height="22.7"/><text x="801.3" y="3850.7">&lt; 3</text><rect class="ft" x="826.3" y="3835.5" width="52" height="22.7"/><text x="830.8" y="3850.7">0 rows</text><rect class="ft" x="878.3" y="3835.5" width="18" height="22.7"/></g>
<g id="outq"><rect class="hd" x="788.3" y="3886" width="116" height="24"/><text class="c" x="846.3" y="3901">outq</text><rect class="w" x="788.3" y="3910" width="116" height="22.7"/><text x="793.3" y="3925.2">...</text><rect class="ft" x="788.3" y="3932.7" width="30" height="22.7"/><text x="793.3" y="3947.9">&lt; 3</text><rect class="ft" x="818.3" y="3932.7" width="68" height="22.7"/><text x="822.8" y="3947.9">660 rows</text><rect class="ft" x="886.3" y="3932.7" width="18" height="22.7"/></g>
<g id="profext"><rect class="hd" x="796.3" y="3983.3" width="100" height="24"/><text class="c" x="846.3" y="3998.3">profext</text><rect class="w" x="796.3" y="4007.3" width="100" height="22.7"/><text x="801.3" y="4022.5">...</text><rect class="ft" x="796.3" y="4030" width="30" height="22.7"/><text x="801.3" y="4045.2">&lt; 3</text><rect class="ft" x="826.3" y="4030" width="52" height="22.7"/><text x="830.8" y="4045.2">0 rows</text><rect class="ft" x="878.3" y="4030" width="18" height="22.7"/></g>
<g id="register"><rect class="hd" x="794.3" y="4080.5" width="104" height="24"/><text class="c" x="846.3" y="4095.5">register</text><rect class="w" x="794.3" y="4104.5" width="104" height="22.7"/><text x="799.3" y="4119.7">...</text><rect class="ft" x="794.3" y="4127.2" width="31" height="22.7"/><text x="799.3" y="4142.4">&lt; 3</text><rect class="ft" x="825.3" y="4127.2" width="52" height="22.7"/><text x="829.8" y="4142.4">0 rows</text><rect class="ft" x="877.3" y="4127.2" width="21" height="22.7"/></g>
<g id="term"><rect class="hd" x="781.3" y="4177.8" width="128" height="24"/><text class="c" x="845.3" y="4192.8">term</text><rect class="w" x="781.3" y="4201.8" width="128" height="22.7"/><text x="786.3" y="4217">...</text><rect class="ft" x="781.3" y="4224.5" width="31" height="22.7"/><text x="786.3" y="4239.7">&lt; 6</text><rect class="ft" x="812.3" y="4224.5" width="80" height="22.7"/><text x="816.8" y="4239.7">8 980 rows</text><rect class="ft" x="892.3" y="4224.5" width="17" height="22.7"/></g>

<text x="14" y="4290" style="font-size:13px">Generated by SchemaSpy</text>
</g>
</svg>
